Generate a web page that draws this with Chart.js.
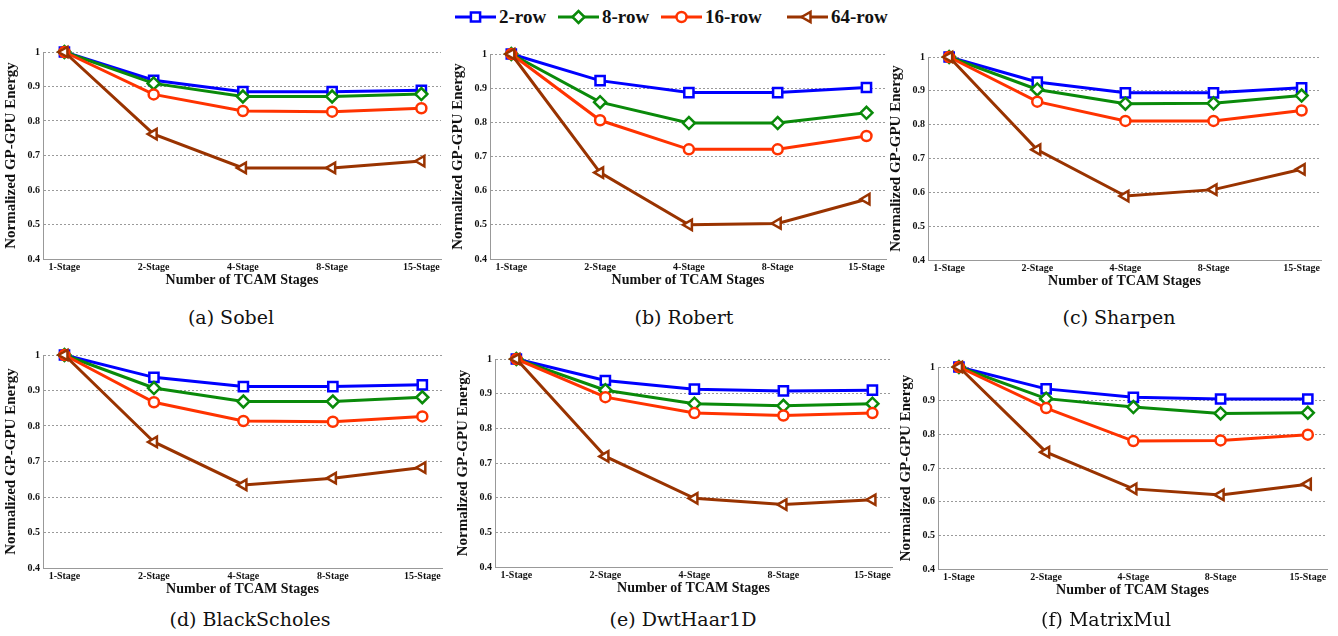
<!DOCTYPE html>
<html>
<head>
<meta charset="utf-8">
<script src="https://cdn.jsdelivr.net/npm/chart.js@4.4.0/dist/chart.umd.min.js"></script>
<style>
  body { margin: 0; background: #fff; width: 1338px; height: 636px; position: relative; overflow: hidden; }
  .panel { position: absolute; }
  .caption { position: absolute; font-family: "DejaVu Serif", serif; font-size: 19px; color: #111; transform: translateX(-50%); white-space: nowrap; }
  .leg { position: absolute; top: 5px; display: flex; align-items: center; font-family: "Liberation Serif", serif; font-weight: bold; font-size: 19px; color: #111; }
  .leg canvas { margin-right: 3px; }
</style>
</head>
<body>
<div id="legend"></div>
<script>
// categories and series
const stages = ['1-Stage', '2-Stage', '4-Stage', '8-Stage', '15-Stage'];
const seriesNames = ['2-row', '8-row', '16-row', '64-row'];
const benchmarks = ['(a) Sobel', '(b) Robert', '(c) Sharpen', '(d) BlackScholes', '(e) DwtHaar1D', '(f) MatrixMul'];
const yTicks = [0.4, 0.5, 0.6, 0.7, 0.8, 0.9, 1];

const row2 = [
  [1, 0.918, 0.885, 0.885, 0.889],   // Sobel
  [1, 0.922, 0.887, 0.887, 0.902],   // Robert
  [1, 0.926, 0.894, 0.894, 0.909],   // Sharpen
  [1, 0.937, 0.911, 0.911, 0.916],   // BlackScholes
  [1, 0.938, 0.913, 0.908, 0.910],   // DwtHaar1D
  [1, 0.935, 0.910, 0.905, 0.905]    // MatrixMul
];
const row8 = [
  [1, 0.909, 0.871, 0.871, 0.878],
  [1, 0.859, 0.798, 0.798, 0.828],
  [1, 0.904, 0.862, 0.863, 0.886],
  [1, 0.907, 0.869, 0.869, 0.881],
  [1, 0.910, 0.871, 0.865, 0.871],
  [1, 0.906, 0.881, 0.862, 0.864]
];
const row16 = [
  [1, 0.877, 0.829, 0.827, 0.837],
  [1, 0.806, 0.721, 0.721, 0.760],
  [1, 0.868, 0.811, 0.811, 0.842],
  [1, 0.867, 0.814, 0.812, 0.827],
  [1, 0.890, 0.844, 0.837, 0.844],
  [1, 0.878, 0.780, 0.782, 0.799]
];
const row64 = [
  [1, 0.762, 0.664, 0.664, 0.684],
  [1, 0.653, 0.500, 0.504, 0.575],
  [1, 0.726, 0.589, 0.608, 0.668],
  [1, 0.755, 0.634, 0.653, 0.683],
  [1, 0.719, 0.598, 0.580, 0.594],
  [1, 0.747, 0.638, 0.620, 0.652]
];
const allSeries = [row2, row8, row16, row64];

const colors = ['#0000ff', '#0a8a0a', '#ff3300', '#993300'];
const markers = ['rect', 'rectRot', 'circle', 'triangle'];
const markerRot = [0, 0, 0, -90];
const markerSize = [6.5, 6, 5, 6];

// plot-area boxes: left axis, right edge, top (y=1), bottom (y=0.4)
const boxes = [
  {L: 43, R: 447, T: 52, B: 259},
  {L: 490, R: 892, T: 54, B: 259},
  {L: 928, R: 1327, T: 57, B: 260},
  {L: 43, R: 448, T: 355, B: 568},
  {L: 495, R: 898, T: 359, B: 567},
  {L: 938, R: 1333, T: 367, B: 569}
];
const captionPos = [[231, 306], [684, 306], [1119, 306], [250, 608], [683, 608], [1106, 608]];

const YAXIS_W = 43, XAXIS_H = 33, PAD_TOP = 10, PAD_RIGHT = 3;
const tickFont = {family: 'Liberation Serif', weight: 'bold', size: 10};

benchmarks.forEach((name, p) => {
  const b = boxes[p];
  const div = document.createElement('div');
  div.className = 'panel';
  const w = YAXIS_W + (b.R - b.L) + PAD_RIGHT;
  const h = PAD_TOP + (b.B - b.T) + XAXIS_H;
  div.style.left = (b.L - YAXIS_W) + 'px';
  div.style.top = (b.T - PAD_TOP) + 'px';
  div.style.width = w + 'px';
  div.style.height = h + 'px';
  const cv = document.createElement('canvas');
  div.appendChild(cv);
  document.body.appendChild(div);

  const cap = document.createElement('div');
  cap.className = 'caption';
  cap.textContent = name;
  cap.style.left = captionPos[p][0] + 'px';
  cap.style.top = captionPos[p][1] + 'px';
  document.body.appendChild(cap);

  new Chart(cv, {
    type: 'line',
    data: {
      datasets: seriesNames.map((s, i) => ({
        label: s,
        data: allSeries[i][p].map((v, j) => ({x: j, y: v})),
        borderColor: colors[i],
        borderWidth: 3,
        backgroundColor: '#fff',
        pointStyle: markers[i],
        pointRotation: markerRot[i],
        pointRadius: markerSize[i],
        pointBorderWidth: 2.5,
        pointBackgroundColor: '#fff',
        pointBorderColor: colors[i],
        order: 3 - i,
        clip: false
      }))
    },
    options: {
      responsive: true,
      maintainAspectRatio: false,
      animation: false,
      layout: {padding: {top: PAD_TOP, right: PAD_RIGHT, left: 0, bottom: 0}},
      plugins: {legend: {display: false}, tooltip: {enabled: false}},
      scales: {
        x: {
          type: 'linear',
          min: -0.24,
          max: 4.22,
          afterBuildTicks: s => { s.ticks = stages.map((_, i) => ({value: i})); },
          afterFit: s => { s.height = XAXIS_H; },
          ticks: {
            callback: v => stages[v],
            font: tickFont,
            color: '#111',
            padding: 2,
            maxRotation: 0,
            autoSkip: false
          },
          grid: {display: false, drawTicks: false},
          border: {display: true, color: '#999', width: 1},
          title: {
            display: true,
            text: 'Number of TCAM Stages',
            font: {family: 'Liberation Serif', weight: 'bold', size: 14},
            color: '#111',
            padding: {top: 0, bottom: 3}
          }
        },
        y: {
          min: 0.4,
          max: 1,
          afterBuildTicks: s => { s.ticks = yTicks.map(v => ({value: v})); },
          afterFit: s => { s.width = YAXIS_W; },
          ticks: {
            callback: v => String(Math.round(v * 10) / 10),
            font: tickFont,
            color: '#111',
            padding: 3
          },
          grid: {color: '#9a9a9a', lineWidth: 1, drawTicks: false},
          border: {display: true, color: '#999', width: 1, dash: [2, 2]},
          title: {
            display: true,
            text: 'Normalized GP-GPU Energy',
            font: {family: 'Liberation Serif', weight: 'bold', size: 15},
            color: '#111',
            padding: {top: 2, bottom: 0}
          }
        }
      }
    }
  });
});

// shared legend at the top
const legendLeft = [455, 558, 661, 787];
const legendEl = document.getElementById('legend');
seriesNames.forEach((s, i) => {
  const item = document.createElement('div');
  item.className = 'leg';
  item.style.left = legendLeft[i] + 'px';
  const ic = document.createElement('canvas');
  ic.width = 41; ic.height = 24;
  const ctx = ic.getContext('2d');
  ctx.strokeStyle = colors[i];
  ctx.lineWidth = 3;
  ctx.beginPath(); ctx.moveTo(0, 12); ctx.lineTo(41, 12); ctx.stroke();
  ctx.fillStyle = '#fff';
  ctx.lineWidth = 2.5;
  Chart.helpers.drawPoint(ctx, {pointStyle: markers[i], radius: markerSize[i], rotation: markerRot[i], borderWidth: 2.5}, 20.5, 12);
  item.appendChild(ic);
  const t = document.createElement('span');
  t.textContent = s;
  item.appendChild(t);
  legendEl.appendChild(item);
});
</script>
</body>
</html>
